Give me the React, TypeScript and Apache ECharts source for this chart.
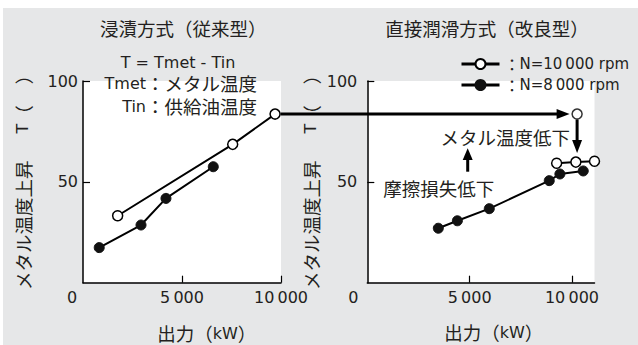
import React, { useEffect, useRef } from 'react';
import * as echarts from 'echarts';

const FONT_L = "'DejaVu Sans', 'Noto Sans CJK JP', sans-serif";
const FONT_J = "'Noto Sans CJK JP', 'DejaVu Sans', sans-serif";
const INK = '#231f20';

// axes
const xMaxOld = 10000;
const xMaxNew = 11100;
const xTickValues = [5000, 10000];
const xLabelValues = [0, 5000, 10000];
const yTickValues = [50, 100];

// series names
const nameHigh = 'N=10\u2009000 rpm';
const nameLow = 'N=8\u2009000 rpm';

// 浸漬方式（従来型）
const oldHighX = [1750, 7560, 9700];
const oldHighY = [33.2, 68.6, 83.6];
const oldLowX = [820, 2930, 4190, 6580];
const oldLowY = [17.4, 28.6, 41.8, 57.5];

// 直接潤滑方式（改良型）
const newHighX = [9250, 10190, 11100];
const newHighY = [59.2, 59.8, 60.2];
const newLowX = [3470, 4400, 5960, 8890, 9410, 10550];
const newLowY = [27.0, 30.7, 36.7, 50.6, 53.9, 55.4];

// reference marker (old max carried over to right panel)
const refX = [10250];
const refY = [83.6];

const zip = (xs: number[], ys: number[]) => xs.map((x, i) => [x, ys[i]]);
const fmt = (v: number) => String(v).replace(/\B(?=(\d{3})+(?!\d))/g, '\u2009');

const openStyle = { color: '#fff', borderColor: '#000', borderWidth: 1.5 };
const fillStyle = { color: '#111', borderColor: '#111', borderWidth: 1 };

function xAxis(gridIndex: number, max: number, zeroShift: number) {
  return {
    type: 'value',
    gridIndex,
    min: 0,
    max,
    interval: 5000,
    axisLine: { show: true, onZero: false, lineStyle: { color: '#000', width: 1.5 } },
    axisTick: { show: true, inside: true, length: 7, customValues: xTickValues, lineStyle: { color: '#000', width: 1.2 } },
    splitLine: { show: false },
    axisLabel: {
      customValues: xLabelValues,
      margin: 7,
      color: INK,
      fontFamily: FONT_L,
      fontSize: 16,
      formatter: (v: number) => (v === 0 ? '{z|0}' : '{n|' + fmt(v) + '}'),
      rich: {
        z: { padding: [0, zeroShift * 2, 0, 0], fontFamily: FONT_L, fontSize: 16, color: INK },
        n: { fontFamily: FONT_L, fontSize: 16, color: INK },
      },
    },
  };
}

function yAxis(gridIndex: number, margin: number) {
  return {
    type: 'value',
    gridIndex,
    min: 0,
    max: 100,
    interval: 50,
    axisLine: { show: true, onZero: false, lineStyle: { color: '#000', width: 1.5 } },
    axisTick: { show: true, inside: true, length: 7, customValues: yTickValues, lineStyle: { color: '#000', width: 1.2 } },
    splitLine: { show: false },
    axisLabel: {
      customValues: yTickValues,
      margin,
      color: INK,
      fontFamily: FONT_L,
      fontSize: 16,
    },
  };
}

function lineSeries(name: string, xi: number, data: number[][], style: any) {
  return {
    type: 'line',
    name,
    xAxisIndex: xi,
    yAxisIndex: xi,
    data,
    symbol: 'circle',
    symbolSize: 10,
    showAllSymbol: true,
    clip: false,
    lineStyle: { color: '#000', width: 2 },
    itemStyle: style,
    z: 5,
  };
}

const richText = {
  c: { fontFamily: FONT_J, fontSize: 18.5, fill: INK, color: INK },
  l: { fontFamily: FONT_L, fontSize: 16, fill: INK, color: INK },
};

function txt(text: string, x: number, y: number, align: string, extra: any = {}) {
  return {
    type: 'text',
    x,
    y,
    z: 20,
    ...extra,
    style: {
      text,
      align,
      verticalAlign: 'middle',
      fill: INK,
      fontFamily: FONT_J,
      fontSize: 18.5,
      rich: {
        ...richText,
        g1: { width: 27, fontSize: 16 },
        g2: { width: 21, fontSize: 16 },
      },
    },
  };
}

export default function App() {
  const ref = useRef<HTMLDivElement>(null);
  useEffect(() => {
    if (!ref.current) return;
    const chart = echarts.init(ref.current, undefined, { renderer: 'svg' });
    chart.setOption({
      animation: false,
      backgroundColor: 'transparent',
      grid: [
        { left: 83, top: 81, width: 198, height: 201.7, show: true, backgroundColor: '#fff', borderWidth: 0 },
        { left: 367.3, top: 81, width: 227.2, height: 201.7, show: true, backgroundColor: '#fff', borderWidth: 0 },
      ],
      xAxis: [xAxis(0, xMaxOld, 11), xAxis(1, xMaxNew, 14)],
      yAxis: [yAxis(0, 5), yAxis(1, 10)],
      legend: {
        data: [nameHigh, nameLow],
        orient: 'vertical',
        left: 460,
        top: 56,
        padding: 0,
        itemWidth: 38,
        itemHeight: 12.5,
        itemGap: 5,
        selectedMode: false,
        lineStyle: { width: 3 },
        formatter: (n: string) => '{c|：}{l|' + n + '}',
        textStyle: {
          color: INK,
          rich: {
            c: { fontFamily: FONT_J, fontSize: 16, color: INK, lineHeight: 18, width: 15, align: 'center' },
            l: { fontFamily: FONT_L, fontSize: 15, color: INK, lineHeight: 18 },
          },
        },
      },
      series: [
        lineSeries(nameHigh, 0, zip(oldHighX, oldHighY), openStyle),
        lineSeries(nameLow, 0, zip(oldLowX, oldLowY), fillStyle),
        lineSeries(nameHigh, 1, zip(newHighX, newHighY), openStyle),
        lineSeries(nameLow, 1, zip(newLowX, newLowY), fillStyle),
        {
          type: 'scatter',
          name: 'ref',
          xAxisIndex: 1,
          yAxisIndex: 1,
          data: zip(refX, refY),
          symbol: 'circle',
          symbolSize: 10,
          clip: false,
          itemStyle: openStyle,
          z: 6,
        },
      ],
    });

    const pOld = chart.convertToPixel({ xAxisIndex: 0, yAxisIndex: 0 }, [oldHighX[2], oldHighY[2]]) as number[];
    const pRef = chart.convertToPixel({ xAxisIndex: 1, yAxisIndex: 1 }, [refX[0], refY[0]]) as number[];
    const pNew = chart.convertToPixel({ xAxisIndex: 1, yAxisIndex: 1 }, [newHighX[1], newHighY[1]]) as number[];
    const hy = pRef[1];
    const tipX = pRef[0] - 7.5;
    const tipY = pNew[1] - 9;
    const upX = 467.7;
    const black = { stroke: '#000', lineWidth: 3 };

    chart.setOption({
      graphic: [
        // horizontal arrow
        { type: 'line', z: 10, shape: { x1: pOld[0] + 5.5, y1: hy, x2: tipX - 10, y2: hy }, style: black },
        { type: 'polygon', z: 10, shape: { points: [[tipX, hy], [tipX - 13, hy - 5], [tipX - 13, hy + 5]] }, style: { fill: '#000' } },
        // down arrow
        { type: 'line', z: 10, shape: { x1: pRef[0], y1: hy + 5.5, x2: pRef[0], y2: tipY - 10 }, style: black },
        { type: 'polygon', z: 10, shape: { points: [[pRef[0], tipY], [pRef[0] - 5, tipY - 13], [pRef[0] + 5, tipY - 13]] }, style: { fill: '#000' } },
        // up arrow
        { type: 'line', z: 10, shape: { x1: upX, y1: 171.7, x2: upX, y2: 158 }, style: black },
        { type: 'polygon', z: 10, shape: { points: [[upX, 148.3], [upX - 5, 160], [upX + 5, 160]] }, style: { fill: '#000' } },
        // titles
        txt('浸漬方式（従来型）', 183.3, 28, 'center'),
        txt('直接潤滑方式（改良型）', 487, 28, 'center'),
        // formula
        txt('{l|T = Tmet - Tin}', 178, 62, 'center'),
        txt('{l|Tmet}{c|：メタル温度}', 257, 83, 'right'),
        txt('{l|Tin}{c|：供給油温度}', 257, 106, 'right'),
        // annotations
        txt('メタル温度低下', 570, 136.7, 'right'),
        txt('摩擦損失低下', 383.3, 188.3, 'left'),
        // axis names
        txt('{c|出力（}{l|kW}{c|）}', 206.7, 333, 'center'),
        txt('{c|出力（}{l|kW}{c|）}', 493.8, 332, 'center'),
        txt('{c|メタル温度上昇}{g1| }{l|T}{c|（}{g2| }{c|）}', 22.5, 290, 'left', { rotation: Math.PI / 2 }),
        txt('{c|メタル温度上昇}{g1| }{l|T}{c|（}{g2| }{c|）}', 310.5, 290, 'left', { rotation: Math.PI / 2 }),
      ],
    });

    return () => chart.dispose();
  }, []);

  return (
    <div style={{ position: 'fixed', left: 0, top: 0, width: 638, height: 345, background: '#fff' }}>
      <div style={{ position: 'absolute', left: 3, top: 8, width: 635, height: 337, background: '#e6e7e8' }} />
      <div ref={ref} style={{ position: 'absolute', left: 0, top: 0, width: 638, height: 345 }} />
    </div>
  );
}
